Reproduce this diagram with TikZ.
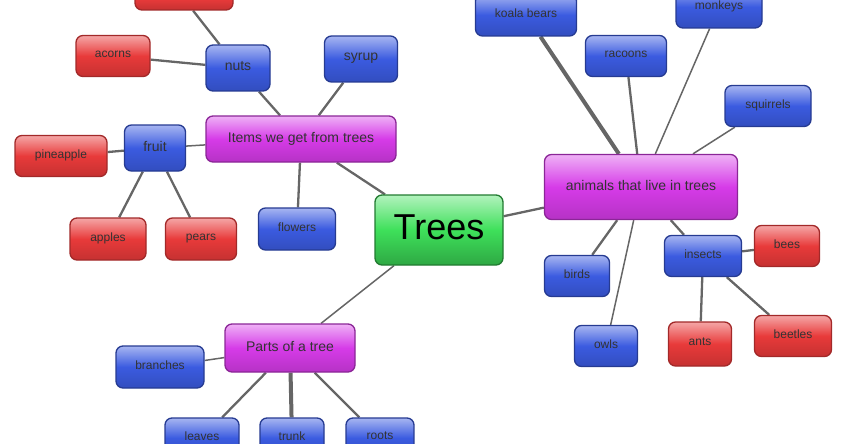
\documentclass[tikz,border=0pt]{standalone}
\usepackage{fontspec}
\setmainfont{Liberation Sans}
\usetikzlibrary{backgrounds}
\definecolor{bl}{HTML}{3B5BE0}
\definecolor{rd}{HTML}{E83A3A}
\definecolor{pk}{HTML}{D63BE8}
\definecolor{gr}{HTML}{3EE05A}
\begin{document}
\begin{tikzpicture}[x=1pt,y=-1pt,
 box/.style={draw, line width=1.3pt, rounded corners=7pt, inner sep=0pt, font=\fontsize{12}{13}\selectfont, text=black!80, text depth=4pt},
 redb/.style={box, draw=rd!70!black, top color=rd!45!white, bottom color=rd!85!black, middle color=rd},
 blueb/.style={box, draw=bl!65!black, top color=bl!45!white, bottom color=bl!85!black, middle color=bl},
 pinkb/.style={box, draw=pk!65!black, top color=pk!40!white, bottom color=pk!85!black, middle color=pk, font=\fontsize{14}{16}\selectfont},
 greenb/.style={box, draw=gr!55!black, top color=gr!40!white, bottom color=gr!75!black, middle color=gr, font=\fontsize{36}{40}\selectfont, text=black, text depth=6pt},
 ln/.style={draw=black!60, line width=2.3pt},
 lnt/.style={draw=black!60, line width=4pt},
 lns/.style={draw=black!60, line width=1.5pt}]
\useasboundingbox (0,0) rectangle (844,444);
\clip (0,0) rectangle (844,444);
\def\B#1#2#3#4#5#6{\node[#1, minimum width=#4, minimum height=#5] (#2) at #3 {#6};}
\B{redb}{top}{(184,-1)}{98}{22}{}
\B{redb}{acorns}{(113,56)}{74}{41}{acorns}
\B{blueb}{nuts}{(238,68)}{64}{46}{\fontsize{14}{16}\selectfont nuts}
\B{blueb}{syrup}{(361,59)}{73}{46}{\fontsize{14}{16}\selectfont syrup}
\B{pinkb}{items}{(301,139)}{190}{46}{Items we get from trees}
\B{blueb}{fruit}{(155,148)}{61}{46}{\fontsize{14}{16}\selectfont fruit}
\B{redb}{pine}{(61,156)}{92}{41}{pineapple}
\B{redb}{apples}{(108,239)}{76}{42}{apples}
\B{redb}{pears}{(201,239)}{71}{42}{pears}
\B{blueb}{flowers}{(297,229)}{77}{42}{flowers}
\B{greenb}{trees}{(439,230)}{128}{70}{Trees}
\B{pinkb}{animals}{(641,187)}{193}{65}{animals that live in trees}
\B{blueb}{koala}{(526,15)}{101}{42}{koala bears}
\B{blueb}{monkeys}{(719,7)}{86}{42}{monkeys}
\B{blueb}{racoons}{(626,56)}{81}{41}{racoons}
\B{blueb}{squirrels}{(768,106)}{86}{41}{squirrels}
\B{blueb}{birds}{(577,276)}{65}{41}{birds}
\B{blueb}{insects}{(703,256)}{77}{41}{insects}
\B{redb}{bees}{(787,246)}{65}{41}{bees}
\B{blueb}{owls}{(606,346)}{63}{41}{owls}
\B{redb}{ants}{(700,344)}{63}{44}{ants}
\B{redb}{beetles}{(793,336)}{77}{41}{beetles}
\B{pinkb}{parts}{(290,348)}{130}{48}{Parts of a tree}
\B{blueb}{branches}{(160,367)}{88}{42}{branches}
\B{blueb}{leaves}{(202,438)}{74}{40}{leaves}
\B{blueb}{trunk}{(292,438)}{64}{40}{trunk}
\B{blueb}{roots}{(380,438)}{68}{40}{roots}
\begin{scope}[on background layer]
\draw[ln] (trees) -- (items);
\draw[ln] (trees) -- (animals);
\draw[lns] (trees) -- (parts);
\draw[ln] (items) -- (nuts);
\draw[ln] (items) -- (syrup);
\draw[lns] (items) -- (fruit);
\draw[ln] (items) -- (flowers);
\draw[ln] (nuts) -- (top);
\draw[ln] (nuts) -- (acorns);
\draw[ln] (fruit) -- (pine);
\draw[ln] (fruit) -- (apples);
\draw[ln] (fruit) -- (pears);
\draw[lnt] (animals) -- (koala);
\draw[lns] (animals) -- (monkeys);
\draw[ln] (animals) -- (racoons);
\draw[lns] (animals) -- (squirrels);
\draw[ln] (animals) -- (birds);
\draw[lns] (animals) -- (owls);
\draw[ln] (animals) -- (insects);
\draw[ln] (insects) -- (bees);
\draw[ln] (insects) -- (ants);
\draw[ln] (insects) -- (beetles);
\draw[lns] (parts) -- (branches);
\draw[ln] (parts) -- (leaves);
\draw[lnt] (parts) -- (trunk);
\draw[ln] (parts) -- (roots);
\end{scope}
\end{tikzpicture}
\end{document}
